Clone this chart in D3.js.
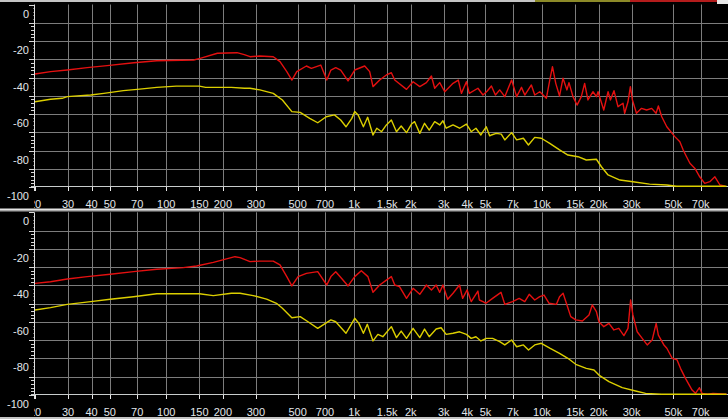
<!DOCTYPE html>
<html><head><meta charset="utf-8">
<script src="https://cdn.jsdelivr.net/npm/d3@7"></script>
<style>html,body{margin:0;padding:0;background:#000;overflow:hidden}</style>
</head><body><svg id="c" width="728" height="419"></svg>
<script>
// ---- tick data ----
const freqTicks = [20,30,40,50,70,100,150,200,300,500,700,1000,1500,2000,3000,4000,5000,7000,10000,15000,20000,30000,50000,70000];
const freqLabels = ["20","30","40","50","70","100","150","200","300","500","700","1k","1.5k","2k","3k","4k","5k","7k","10k","15k","20k","30k","50k","70k"];
const dbTicks = [0,-20,-40,-60,-80,-100];

// ---- top panel: red ----
const topRedFreq = [20,24.2,29.7,37.9,48.4,67.2,89,140,151.5,187,238,260,279,315,371,403,438,466,495,557,592,664,715,752,798,848,928,1007,1138,1210,1260,1368,1485,1578,1645,1900,2060,2236,2424,2579,2684,2855,3036,3360,3585,3725,3960,4100,4560,4850,5100,5380,5650,5955,6340,6890,7330,7780,8100,8780,9150,9730,10140,10550,11000,11370,11840,12400,12940,13580,13920,14620,15370,16200,16870,17560,18700,19480,19880,21320,22480,23140,24170,25380,26990,27550,28700,29550,30300,31840,33880,36060,38370,40490,41640,43410,46180,50930,54200,56460,58840,61300,65200,69150,73500,78250,83270,88600,94300];
const topRedDb = [-38.1,-36.8,-35.9,-34.6,-33.5,-31.9,-30.8,-30.4,-29.5,-26.7,-26.4,-27.5,-28.6,-28.2,-28.6,-31.3,-36.8,-41.4,-36.8,-33.7,-35,-33.2,-41.4,-35.9,-34.6,-35.9,-41.9,-35.9,-33.7,-36.8,-45,-41.4,-38.6,-37.4,-41.4,-46.5,-42.3,-45,-42.8,-39.2,-45.9,-42.8,-47.8,-43.2,-41.4,-48.7,-42.3,-48.7,-45.9,-49.6,-47.5,-44.7,-49.6,-46.8,-50.5,-41.4,-50.5,-45.4,-49.6,-44.1,-49.6,-47.8,-49.6,-51.4,-41.4,-34.1,-43.2,-50.1,-40.4,-46.8,-42.8,-50.5,-55.1,-50.5,-43.2,-52.3,-47.8,-50.5,-47.8,-57.8,-47.8,-52.3,-47.2,-56,-54.1,-59.6,-53.3,-45,-52.3,-59.6,-56.9,-57.8,-56.9,-59.6,-55.6,-61.5,-67,-72.4,-75.2,-79.7,-83.4,-87,-89.8,-94.4,-98,-97.1,-94.4,-98.9,-99.5];

// ---- top panel: yellow ----
const topYellowFreq = [20,24.2,27.9,29.7,39.6,46.5,59.1,70,89,113,150,162,222,261,279,315,371,415,466,516,580,640,710,785,848,905,972,1007,1050,1120,1180,1260,1320,1400,1485,1578,1680,1780,1900,2020,2100,2236,2370,2510,2684,2855,2970,3090,3360,3640,3960,4200,4450,4730,4850,5050,5270,5380,5710,6070,6340,6890,7330,7960,8470,9150,9920,11000,12400,13750,15560,17210,19480,20720,22480,26000,30500,37400,46200,52000,96000];
const topYellowDb = [-53.3,-51.9,-51.4,-50.5,-49.6,-48.7,-47.2,-46.5,-45.4,-44.7,-44.7,-45.4,-45.4,-45.9,-45.9,-46.8,-48.7,-52.3,-58.7,-59.1,-62.4,-64.8,-61.5,-60.5,-63.3,-67,-62.4,-58.7,-60.5,-67,-61.8,-71.5,-67.8,-69.7,-66,-63.3,-69.7,-66.6,-70.2,-65.5,-64.2,-70.6,-65.1,-68.8,-64.2,-66,-63.7,-67.8,-66,-67.8,-65.5,-69.7,-67.8,-71.5,-69.7,-67,-72,-71.5,-70.6,-71,-74.2,-70.2,-74.2,-73.3,-77,-72.8,-73.3,-76.1,-79.7,-82.5,-83.4,-85.2,-84.8,-88.9,-93.4,-96.2,-97.1,-98.4,-98.9,-99.6,-99.6];

// ---- bottom panel: red ----
const botRedFreq = [20,24.2,29.7,37.9,50.3,66.9,89,123,145,178,232,247,279,315,371,403,438,466,503,557,640,715,752,798,856,928,1007,1092,1184,1260,1368,1485,1578,1645,1744,1900,2060,2236,2424,2579,2732,2855,2970,3148,3360,3640,3780,3996,4200,4560,4640,4850,5034,5458,6050,6340,6968,7562,8100,8550,9150,9730,10260,10914,11934,12400,12952,13580,14228,15128,16406,17794,18520,19480,20100,21340,22720,24150,25650,27300,28700,29640,30480,32120,34160,36320,38600,40540,41640,44560,46200,49300,52380,54620,58060,62950,65620,68900,71120,76140,81400,96000];
const botRedDb = [-38.9,-38,-36.5,-35.2,-33.9,-32.5,-31.2,-30.3,-29.4,-27.4,-24.3,-24.8,-27,-26.7,-26.7,-28.8,-35.2,-40.3,-35.2,-33.4,-32.5,-39.8,-35.2,-32.5,-36.1,-40.3,-35.2,-32,-35.2,-43.8,-39.8,-37.1,-35.2,-39.8,-40.7,-47.1,-41.6,-44.9,-39.8,-42.5,-39.8,-43.8,-39.8,-47.6,-44.3,-39.8,-47.1,-42.5,-48.9,-43.1,-48,-48.9,-49.8,-47.1,-43.8,-50.4,-48.9,-47.1,-48.9,-44.9,-48,-46.2,-45.3,-49.8,-50.4,-46.2,-44.3,-50.7,-57.1,-58.9,-59.5,-56.2,-50.7,-54.4,-59.9,-62.6,-60.8,-64.4,-63.5,-67.5,-63.5,-48,-56.2,-65.4,-69,-72.6,-69.9,-60.8,-67.2,-72.6,-74.4,-79.9,-80.8,-85.4,-90.9,-97.3,-99.1,-96,-99.1,-99.6,-99.1,-99.6];

// ---- bottom panel: yellow ----
const botYellowFreq = [20,24.2,29.7,39.6,50.3,66.9,89,150,178,222,247,290,342,386,415,466,516,568,640,752,798,905,972,1007,1060,1120,1175,1260,1338,1422,1578,1680,1780,1900,2060,2236,2370,2510,2732,2904,3090,3360,3640,3960,4200,4450,4730,5050,5458,5955,6340,6890,7330,7960,8478,9150,9920,11000,12400,13730,15128,17210,18914,20100,22720,26740,31500,35600,43260,96000];
const botYellowDb = [-53.5,-52.2,-50.4,-48.9,-47.6,-46.2,-44.6,-44.6,-45.6,-44.3,-44.3,-45.6,-47.5,-49.8,-52.5,-57.7,-57.1,-59.9,-63.5,-58.9,-59.9,-66.2,-60.8,-58,-60.8,-66.2,-61.3,-70.4,-66.8,-68.1,-62.6,-68.6,-65,-69,-63.5,-68.6,-63.9,-68.1,-63.9,-63.2,-66.8,-66.2,-65.4,-66.8,-69,-68.1,-70.4,-69,-69,-70.8,-72.6,-69.9,-73.6,-72.6,-75.4,-72.6,-71.7,-74.4,-77.2,-79.9,-83.2,-85.4,-86.3,-89.1,-92.7,-96,-97.8,-99.1,-99.6,-99.6];

const svg = d3.select("#c");
const W = 728, H = 419;
svg.append("rect").attr("width", W).attr("height", H).attr("fill", "#000");

// top chrome strip
svg.append("rect").attr("x",0).attr("y",0).attr("width",535).attr("height",2).attr("fill","#c4c4c4");
svg.append("rect").attr("x",535).attr("y",0).attr("width",95).attr("height",2).attr("fill","#8c8a28");
svg.append("rect").attr("x",630).attr("y",0).attr("width",87).attr("height",2).attr("fill","#b41c1c");
svg.append("rect").attr("x",717).attr("y",0).attr("width",11).attr("height",4).attr("fill","#e8e8e8");

const x = d3.scaleLog().domain([20, 96000]).range([35, 726.5]);
const FONT = "'Liberation Sans', Arial, sans-serif";

const panels = [
  {top: 4.5, bottom: 187, redF: topRedFreq, redD: topRedDb, yelF: topYellowFreq, yelD: topYellowDb},
  {top: 212.3, bottom: 395, redF: botRedFreq, redD: botRedDb, yelF: botYellowFreq, yelD: botYellowDb}
];

const crisp = v => Math.round(v) + 0.5;

panels.forEach((p, i) => {
  const y = d3.scaleLinear().domain([-100, 0]).range([p.bottom, p.top]);
  const g = svg.append("g");
  const clipId = "clip" + i;
  svg.append("clipPath").attr("id", clipId).append("rect")
    .attr("x", 34.5).attr("y", p.top - 1).attr("width", W - 34.5).attr("height", p.bottom - p.top + 2);
  const lclipId = "lclip" + i;
  svg.append("clipPath").attr("id", lclipId).append("rect")
    .attr("x", 34).attr("y", p.bottom).attr("width", W - 34).attr("height", 26);

  // horizontal gridlines every 10 dB
  const hGrid = d3.range(-90, 0, 10);
  g.selectAll(".hg").data(hGrid).join("line")
    .attr("x1", 34).attr("x2", W)
    .attr("y1", d => crisp(y(d))).attr("y2", d => crisp(y(d)))
    .attr("stroke", "#7c7c7c").attr("stroke-width", 1);
  // vertical gridlines
  g.selectAll(".vg").data(freqTicks.slice(1)).join("line")
    .attr("x1", d => crisp(x(d))).attr("x2", d => crisp(x(d)))
    .attr("y1", p.top).attr("y2", p.bottom)
    .attr("stroke", "#7c7c7c").attr("stroke-width", 1);

  // y minor/major ticks
  const yt = d3.range(-100, 1, 2);
  g.selectAll(".yt").data(yt).join("line")
    .attr("x1", d => d % 10 === 0 ? 29 : 31).attr("x2", 34)
    .attr("y1", d => crisp(y(d))).attr("y2", d => crisp(y(d)))
    .attr("stroke", "#d8d8d8").attr("stroke-width", 1);

  // y labels with black backing boxes
  const yl = g.selectAll(".yl").data(dbTicks).join("g");
  yl.append("rect").attr("x", 0).attr("width", 33.5)
    .attr("y", d => y(d) + 2).attr("height", 14).attr("fill", "#000");
  yl.append("text").attr("x", 29).attr("y", d => y(d) + 13)
    .attr("text-anchor", "end").attr("font-family", FONT).attr("font-size", 11)
    .attr("fill", "#e2e6ea").text(d => d);

  // axis lines
  g.append("line").attr("x1", 34.5).attr("x2", 34.5).attr("y1", p.top).attr("y2", p.bottom + 4)
    .attr("stroke", "#e0e0e0").attr("stroke-width", 1);
  g.append("line").attr("x1", 31).attr("x2", W).attr("y1", crisp(p.bottom) - 1).attr("y2", crisp(p.bottom) - 1)
    .attr("stroke", "#c8cccc").attr("stroke-width", 1);

  // x ticks
  g.selectAll(".xt").data(freqTicks).join("line")
    .attr("x1", d => crisp(x(d))).attr("x2", d => crisp(x(d)))
    .attr("y1", p.bottom).attr("y2", p.bottom + 4)
    .attr("stroke", "#e8e8e8").attr("stroke-width", 1);

  // x labels
  g.append("g").attr("clip-path", `url(#${lclipId})`)
    .selectAll("text").data(freqTicks).join("text")
    .attr("x", d => x(d)).attr("y", p.bottom + 20.5)
    .attr("text-anchor", "middle").attr("font-family", FONT).attr("font-size", 11)
    .attr("fill", "#e2e6ea").text((d, j) => freqLabels[j]);

  // traces
  const line = d3.line().x(d => x(d[0])).y(d => y(d[1]));
  const tg = g.append("g").attr("clip-path", `url(#${clipId})`);
  tg.append("path").datum(d3.zip(p.redF, p.redD)).attr("d", line)
    .attr("fill", "none").attr("stroke", "#e41010").attr("stroke-width", 1.4).attr("stroke-linejoin", "round");
  tg.append("path").datum(d3.zip(p.yelF, p.yelD)).attr("d", line)
    .attr("fill", "none").attr("stroke", "#dccf00").attr("stroke-width", 1.4).attr("stroke-linejoin", "round");
});

// separator between panels and bottom edge
svg.append("rect").attr("x", 0).attr("y", 208.5).attr("width", W).attr("height", 1.5).attr("fill", "#e4e4e4");
svg.append("rect").attr("x", 0).attr("y", 210).attr("width", W).attr("height", 1.5).attr("fill", "#a8a8a8");
svg.append("rect").attr("x", 0).attr("y", 417).attr("width", W).attr("height", 2).attr("fill", "#c4c4c4");
</script></body></html>
